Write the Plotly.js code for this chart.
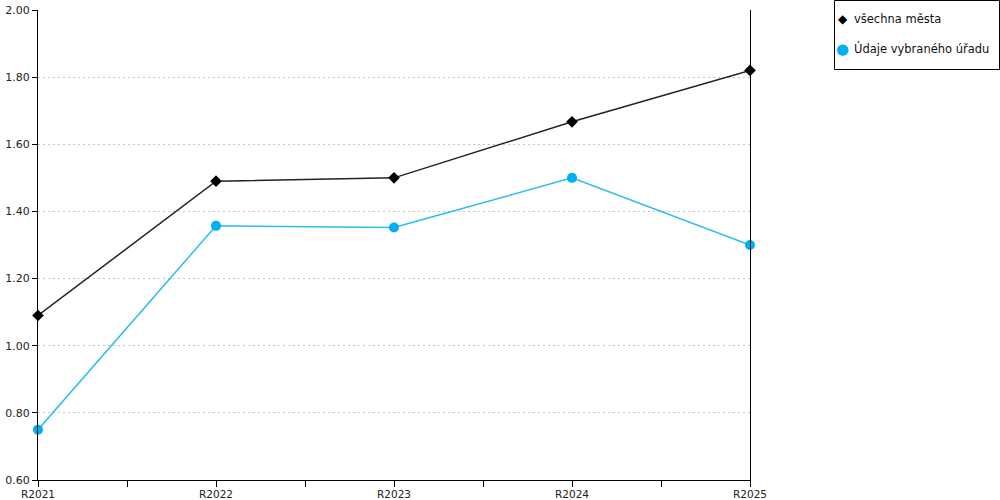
<!DOCTYPE html>
<html>
<head>
<meta charset="utf-8">
<script src="https://cdn.plot.ly/plotly-3.0.1.min.js"></script>
<style>
  html, body { margin: 0; padding: 0; background: #fff; }
  #chart { width: 1000px; height: 500px; }
</style>
</head>
<body>
<div id="chart"></div>
<script>
const categories = ["R2021", "R2022", "R2023", "R2024", "R2025"];
const allCities = [1.09, 1.49, 1.50, 1.667, 1.82];
const selectedOffice = [0.75, 1.357, 1.352, 1.50, 1.30];
const seriesNames = ["všechna města", "Údaje vybraného úřadu"];
const yTicks = [0.6, 0.8, 1.0, 1.2, 1.4, 1.6, 1.8, 2.0];

const xs = categories.map((c, i) => i);

const traces = [
  {
    x: xs, y: allCities,
    name: seriesNames[0],
    mode: "lines+markers",
    line: { color: "#222222", width: 1.5 },
    marker: { symbol: "diamond", size: 9, color: "#000000" },
    cliponaxis: false,
  },
  {
    x: xs, y: selectedOffice,
    name: seriesNames[1],
    mode: "lines+markers",
    line: { color: "#2bbcf0", width: 1.5 },
    marker: { symbol: "circle", size: 10, color: "#00b0f0" },
    cliponaxis: false,
  },
];

// legend drawn by hand so the box keeps only the markers, like the original
const W = 712, H = 470, L = 38, T = 10;
const px = v => (v - L) / W;
const py = v => (T + H - v) / H;

const legendMarks = [
  { sym: "◆", color: "#000000", size: 12 },
  { sym: "●", color: "#00b0f0", size: 15 },
];
const annotations = [];
seriesNames.forEach((name, i) => {
  const yc = py(19 + i * 30);
  annotations.push({
    xref: "paper", yref: "paper", x: px(843), y: yc,
    xanchor: "center", yanchor: "middle", showarrow: false,
    text: legendMarks[i].sym,
    font: { size: legendMarks[i].size, color: legendMarks[i].color },
  });
  annotations.push({
    xref: "paper", yref: "paper", x: px(852), y: yc,
    xanchor: "left", yanchor: "middle", showarrow: false,
    text: name,
    font: { size: 11.5, color: "#111" },
  });
});

const layout = {
  width: 1000, height: 500,
  margin: { l: L, r: 1000 - L - W, t: T, b: 500 - T - H, pad: 0, autoexpand: false },
  paper_bgcolor: "#fff", plot_bgcolor: "#fff",
  font: { family: "DejaVu Sans, Verdana, sans-serif", size: 11, color: "#222" },
  showlegend: false,
  annotations,
  shapes: [{
    type: "rect", xref: "paper", yref: "paper",
    x0: px(834.5), x1: px(999.5), y0: py(69.5), y1: py(0.5),
    line: { color: "#000", width: 1 }, fillcolor: "rgba(0,0,0,0)",
  }],
  xaxis: {
    range: [0, 4],
    tickmode: "array", tickvals: xs, ticktext: categories,
    ticks: "outside", ticklen: 6, tickcolor: "#000",
    tickfont: { size: 10.5 }, ticklabelstandoff: -2,
    showline: true, linecolor: "#000", linewidth: 1,
    showgrid: false, zeroline: false,
    minor: { tick0: 0.5, dtick: 1, ticks: "outside", ticklen: 6, tickcolor: "#000", showgrid: false },
    fixedrange: true,
  },
  yaxis: {
    range: [0.6, 2.0],
    tickmode: "array", tickvals: yTicks,
    tickformat: ".2f",
    ticks: "outside", ticklen: 5, tickcolor: "#000",
    showline: true, linecolor: "#000", linewidth: 1, mirror: true,
    showgrid: true, gridcolor: "#c4c4c4", griddash: "2px,3px", gridwidth: 1,
    zeroline: false,
    fixedrange: true,
  },
};

Plotly.newPlot("chart", traces, layout, { displayModeBar: false, staticPlot: true });
</script>
</body>
</html>
